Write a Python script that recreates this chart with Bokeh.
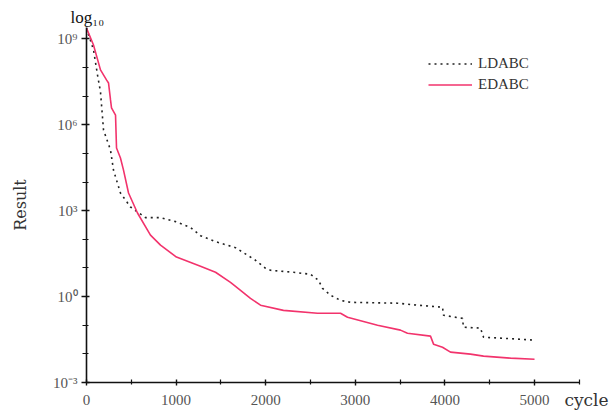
from bokeh.plotting import figure
from bokeh.models import Range1d, FixedTicker, CustomJSTickFormatter, Legend, LegendItem, Title
from bokeh.embed import file_html
from bokeh.resources import INLINE

# ---- data (y given as log10 of Result) ----
edabc_cycle = [0, 78, 156, 223, 246, 268, 279, 324, 335, 379, 413, 469, 569, 714, 826, 1004,
               1272, 1440, 1607, 1719, 1830, 1942, 2198, 2578, 2835, 2913, 3248, 3504, 3582,
               3839, 3873, 3973, 4062, 4285, 4431, 4732, 5000]
edabc_log10 = [9.38, 8.79, 7.92, 7.57, 7.46, 6.87, 6.59, 6.34, 5.19, 4.84, 4.42, 3.62, 2.92, 2.15,
               1.80, 1.38, 1.06, 0.85, 0.50, 0.22, -0.06, -0.30, -0.48, -0.58, -0.58, -0.72,
               -1.00, -1.17, -1.28, -1.38, -1.66, -1.77, -1.94, -2.01, -2.08, -2.15, -2.19]

ldabc_cycle = [0, 78, 123, 156, 190, 268, 301, 379, 491, 658, 826, 993, 1161, 1272, 1440, 1663,
               1886, 1998, 2053, 2310, 2500, 2589, 2634, 2723, 2835, 2946, 3471, 3694, 3973,
               3984, 4196, 4207, 4397, 4431, 4620, 5000]
ldabc_log10 = [9.38, 8.62, 7.74, 7.15, 5.82, 5.12, 4.42, 3.62, 3.13, 2.76, 2.76, 2.62, 2.41, 2.13,
               1.92, 1.71, 1.27, 0.99, 0.92, 0.85, 0.78, 0.57, 0.29, 0.05, -0.13, -0.20, -0.23,
               -0.30, -0.37, -0.65, -0.76, -1.07, -1.10, -1.42, -1.45, -1.52]

x_ticks = [0, 1000, 2000, 3000, 4000, 5000]
x_minor = [500, 1500, 2500, 3500, 4500, 5500]
y_tick_exp = [-3, 0, 3, 6, 9]
y_minor_exp = [-2, -1, 1, 2, 4, 5, 7, 8]

edabc_vals = [10 ** v for v in edabc_log10]
ldabc_vals = [10 ** v for v in ldabc_log10]

SERIF = "Liberation Serif"

p = figure(width=614, height=412, output_backend="svg", toolbar_location=None,
           y_axis_type="log",
           x_range=Range1d(0, 5580), y_range=Range1d(10 ** -3, 10 ** 9.4),
           min_border_left=86, min_border_right=28, min_border_top=27, min_border_bottom=30)
p.outline_line_color = None
p.xgrid.visible = False
p.ygrid.visible = False
p.background_fill_color = "white"
p.border_fill_color = "white"

r_ld = p.line(ldabc_cycle, ldabc_vals, line_color="#222222", line_width=1.6, line_dash="2 4")
r_ed = p.line(edabc_cycle, edabc_vals, line_color="#f2336c", line_width=1.6)

# axes
for ax in (p.xaxis[0], p.yaxis[0]):
    ax.axis_line_color = "#111111"
    ax.axis_line_width = 1.6
    ax.major_tick_line_color = "#111111"
    ax.minor_tick_line_color = "#111111"
    ax.major_tick_line_width = 1.4
    ax.minor_tick_line_width = 1.2
    ax.major_label_text_font = SERIF
    ax.major_label_text_font_size = "15px"
    ax.major_label_text_color = "#555555"

p.xaxis.bounds = (0, 5500)
p.xaxis.ticker = FixedTicker(ticks=x_ticks, minor_ticks=x_minor)
p.xaxis.major_tick_out = 3
p.xaxis.major_tick_in = 3
p.xaxis.minor_tick_out = 2
p.xaxis.minor_tick_in = 3
p.xaxis.major_label_standoff = 9
p.xaxis.axis_label = "cycle"
p.xaxis.axis_label_align = "end"
p.xaxis.axis_label_standoff = -18
p.xaxis.axis_label_text_font = "DejaVu Serif"
p.xaxis.axis_label_text_font_style = "normal"
p.xaxis.axis_label_text_font_size = "17px"
p.xaxis.axis_label_text_color = "#333333"

p.yaxis.ticker = FixedTicker(ticks=[10 ** e for e in y_tick_exp],
                             minor_ticks=[10 ** e for e in y_minor_exp])
p.yaxis.formatter = CustomJSTickFormatter(code="""
const e = Math.round(Math.log10(tick));
const sup = {'-':'\u207b','0':'\u2070','1':'\u00b9','2':'\u00b2','3':'\u00b3','4':'\u2074',
             '5':'\u2075','6':'\u2076','7':'\u2077','8':'\u2078','9':'\u2079'};
return '10' + String(e).split('').map(c => sup[c]).join('');
""")
p.yaxis.major_tick_out = 5
p.yaxis.major_tick_in = 3
p.yaxis.minor_tick_out = 4
p.yaxis.minor_tick_in = 2
p.yaxis.major_label_standoff = 4
p.yaxis.axis_label = "Result"
p.yaxis.axis_label_text_font = "DejaVu Serif"
p.yaxis.axis_label_text_font_style = "normal"
p.yaxis.axis_label_text_font_size = "16px"
p.yaxis.axis_label_text_color = "#333333"
p.yaxis.axis_label_standoff = 20

# "log10" caption above the y axis
p.add_layout(Title(text="log\u2081\u2080", align="left", offset=-16, standoff=2,
                   text_font=SERIF, text_font_size="17px", text_font_style="normal",
                   text_color="#111111"), "above")

legend = Legend(items=[LegendItem(label="LDABC", renderers=[r_ld]),
                       LegendItem(label="EDABC", renderers=[r_ed])],
                location=(342, 287), padding=0, margin=0, spacing=0,
                glyph_width=44, glyph_height=21, label_height=21, label_standoff=6,
                label_text_font=SERIF, label_text_font_size="15px", label_text_color="#333333",
                border_line_color=None, background_fill_alpha=0)
p.add_layout(legend)

open("out.html", "w").write(file_html(p, INLINE))
